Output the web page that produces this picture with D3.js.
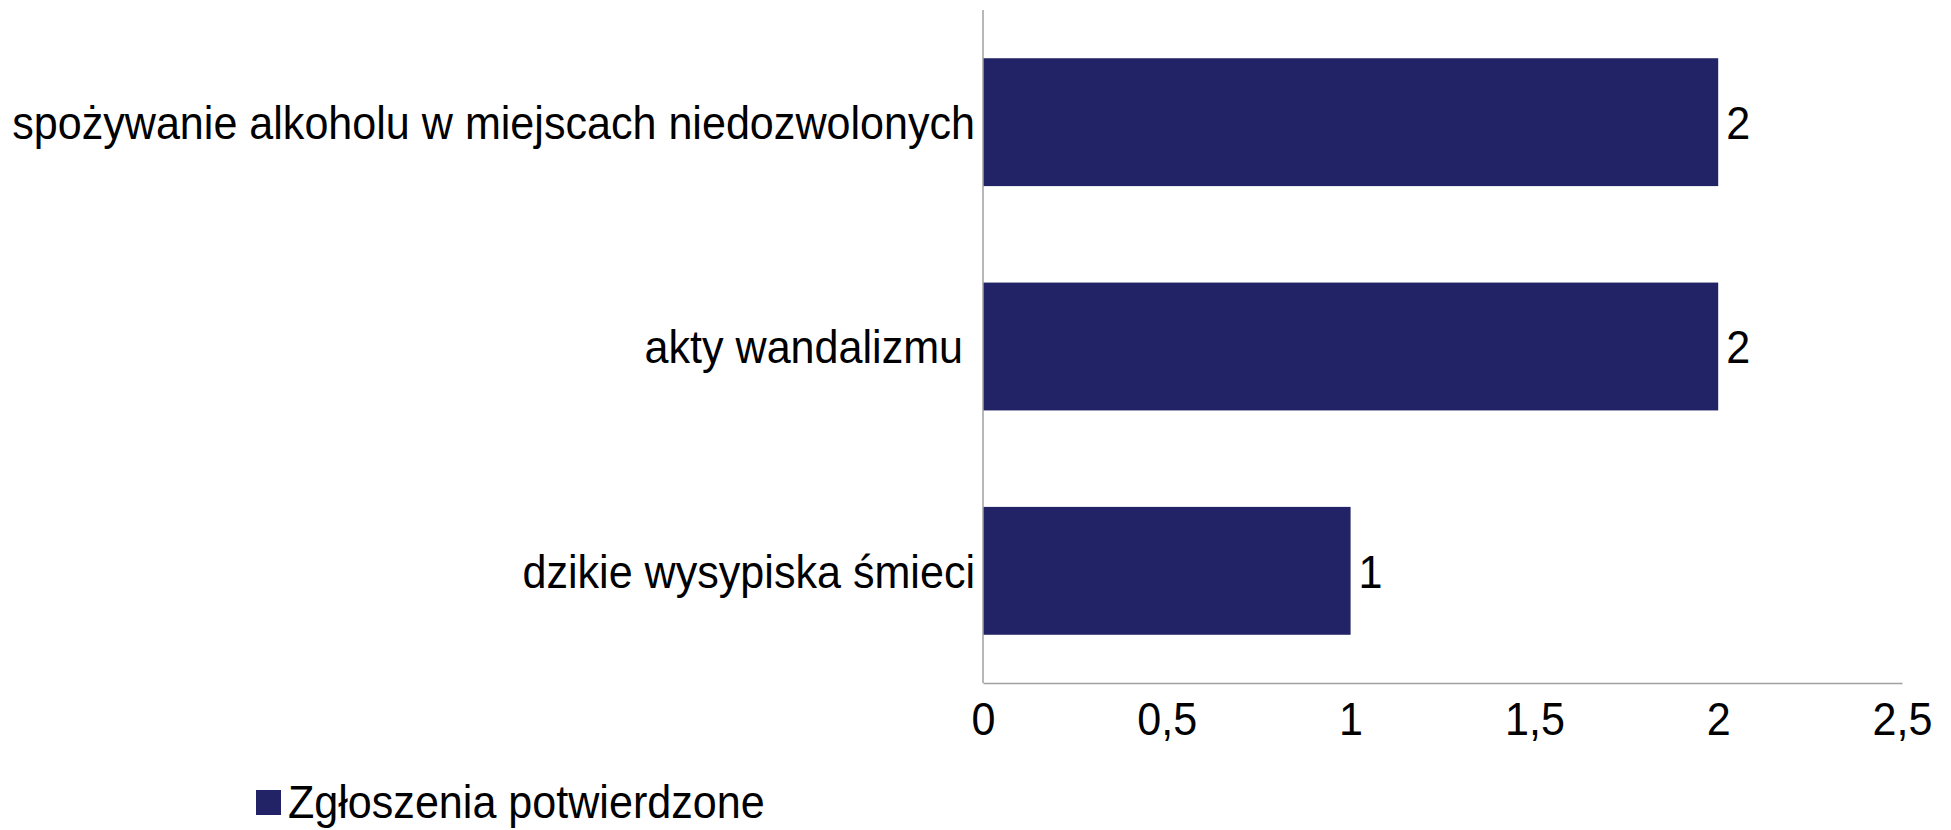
<!DOCTYPE html>
<meta charset="utf-8">
<style>
  body { margin: 0; background: #fff; }
  text { font-family: "Liberation Sans", Arial, sans-serif; fill: #000; }
</style>
<script src="https://d3js.org/d3.v7.min.js"></script>
<svg id="chart" width="1951" height="830"></svg>
<script>
  // data
  var categories = ["spożywanie alkoholu w miejscach niedozwolonych", "akty wandalizmu ", "dzikie wysypiska śmieci"]
  var values = [2, 2, 1]
  var tickValues = [0, 0.5, 1, 1.5, 2, 2.5]
  var seriesName = "Zgłoszenia potwierdzone"

  var barColor = "#222366"
  var axisColor = "#a0a0a0"
  var fontSize = 47
  var squeeze = 0.917   // the original font is a bit narrow

  function place(px, py) {
    return "translate(" + px + "," + py + ") scale(" + squeeze + ",1)"
  }

  var svg = d3.select("#chart")

  var x = d3.scaleLinear()
    .domain([0, 2.5])
    .range([983, 1902])

  var y = d3.scaleBand()
    .domain(categories)
    .range([10, 683])
    .paddingInner(0.43)
    .paddingOuter(0.215)

  // bars
  svg.selectAll("rect.bar")
    .data(values)
    .enter()
    .append("rect")
      .attr("class", "bar")
      .attr("x", x(0))
      .attr("y", function(d, i) { return y(categories[i]) })
      .attr("width", function(d) { return x(d) - x(0) })
      .attr("height", y.bandwidth())
      .attr("fill", barColor)

  // value labels
  svg.selectAll("text.val")
    .data(values)
    .enter()
    .append("text")
      .attr("class", "val")
      .attr("transform", function(d, i) {
        return place(x(d) + 8, y(categories[i]) + y.bandwidth() / 2 + fontSize * 0.36)
      })
      .style("font-size", fontSize + "px")
      .text(function(d) { return d })

  // category labels
  svg.selectAll("text.cat")
    .data(categories)
    .enter()
    .append("text")
      .attr("class", "cat")
      .attr("transform", function(d) {
        return place(975, y(d) + y.bandwidth() / 2 + fontSize * 0.36)
      })
      .attr("text-anchor", "end")
      .style("white-space", "pre")
      .style("font-size", fontSize + "px")
      .text(function(d) { return d })

  // axes lines
  svg.append("line")
    .attr("x1", x(0)).attr("x2", x(0))
    .attr("y1", 10).attr("y2", 683)
    .attr("stroke", axisColor)
    .attr("stroke-width", 1.5)

  var xAxis = svg.append("g")
    .attr("transform", "translate(0,683)")
    .call(d3.axisBottom(x)
      .tickValues(tickValues)
      .tickSize(0)
      .tickPadding(0)
      .tickFormat(function(d) { return String(d).replace(".", ",") }))

  xAxis.select(".domain")
    .attr("stroke", axisColor)
    .attr("stroke-width", 1.5)
  xAxis.selectAll(".tick text")
    .attr("y", null)
    .attr("dy", null)
    .attr("transform", place(0, 52))
    .style("font-size", fontSize + "px")
    .style("font-family", "\"Liberation Sans\", Arial, sans-serif")
    .attr("fill", "#000")

  // legend
  var legend = svg.append("g")
  legend.append("rect")
    .attr("x", 256).attr("y", 790)
    .attr("width", 25).attr("height", 25)
    .attr("fill", barColor)
  legend.append("text")
    .attr("transform", place(288, 818))
    .style("font-size", fontSize + "px")
    .text(seriesName)
</script>
